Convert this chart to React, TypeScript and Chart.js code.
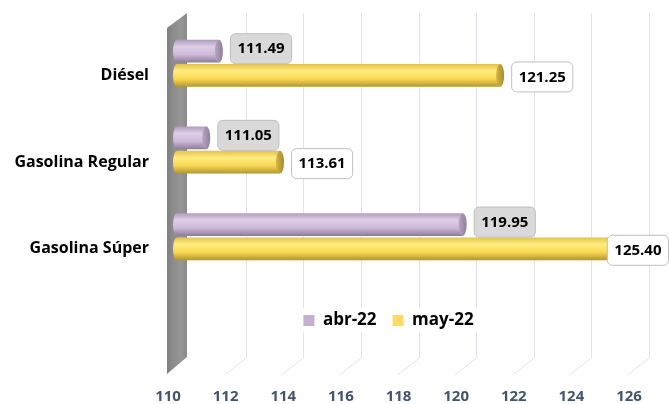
import React, { useEffect, useRef } from 'react';
import { Chart, registerables } from 'chart.js';

Chart.register(...registerables);

const categories = ['Diésel', 'Gasolina Regular', 'Gasolina Súper'];
const seriesNames = ['abr-22', 'may-22'];
const abrValues = [111.49, 111.05, 119.95];
const mayValues = [121.25, 113.61, 125.4];
const xMin = 110;
const xMax = 126;
const xStep = 2;

const FONT = "'Open Sans', 'Noto Sans', sans-serif";

const styles = [
  {
    legend: '#C3AFCF',
    stops: ['#B09CBD', '#DDCDE7', '#CDB9D9', '#8C7B98'],
    face: ['#B7A5C4', '#8E7D9B'],
    labelFill: '#D9D9D9',
    labelDy: -3,
  },
  {
    legend: '#FFD966',
    stops: ['#E2C24A', '#FFEC80', '#F8D852', '#B39430'],
    face: ['#D4B54A', '#A88B2E'],
    labelFill: '#FFFFFF',
    labelDy: 1,
  },
];

const backdropPlugin = {
  id: 'backdrop',
  beforeDraw(chart: any) {
    const { ctx, chartArea } = chart;
    const xs = chart.scales.x;
    const top = chartArea.top - 7;
    const bottom = chartArea.bottom + 78;
    ctx.save();
    ctx.strokeStyle = '#DFE3EA';
    ctx.lineWidth = 1;
    for (let v = xMin + xStep; v <= xMax; v += xStep) {
      const gx = Math.round(xs.getPixelForValue(v) + 8) + 0.5;
      ctx.beginPath();
      ctx.moveTo(gx, top);
      ctx.lineTo(gx, bottom);
      ctx.lineTo(gx - 22, bottom + 17);
      ctx.stroke();
    }
    const p0 = xs.getPixelForValue(xMin);
    const g = ctx.createLinearGradient(p0 - 13, 0, p0 + 7, 0);
    g.addColorStop(0, '#7E7E7E');
    g.addColorStop(0.3, '#8C8C8C');
    g.addColorStop(0.7, '#969696');
    g.addColorStop(1, '#8A8A8A');
    ctx.fillStyle = g;
    ctx.beginPath();
    ctx.moveTo(p0 - 13, top + 15);
    ctx.lineTo(p0 + 7, top);
    ctx.lineTo(p0 + 7, bottom - 1);
    ctx.lineTo(p0 - 13, bottom + 16);
    ctx.closePath();
    ctx.fill();
    const lg = chart.legend;
    if (lg && lg.legendHitBoxes && lg.legendHitBoxes.length) {
      const hb = lg.legendHitBoxes;
      let l = Infinity, r = -Infinity, t = Infinity, b = -Infinity;
      for (const h of hb) {
        l = Math.min(l, h.left);
        r = Math.max(r, h.left + h.width);
        t = Math.min(t, h.top);
        b = Math.max(b, h.top + h.height);
      }
      ctx.fillStyle = '#FFFFFF';
      const cy = (t + b) / 2;
      ctx.fillRect(l - 6, cy - 12, r - l + 12, 24);
    }
    ctx.restore();
  },
  beforeDatasetDraw(chart: any, args: any) {
    const { ctx } = chart;
    const st = styles[args.index];
    const p0 = chart.scales.x.getPixelForValue(xMin);
    ctx.save();
    for (const el of args.meta.data) {
      const h = el.height;
      const y0 = el.y - h / 2;
      const x0 = Math.max(el.base, p0) - 3;
      const x1 = el.x - 4;
      const g = ctx.createLinearGradient(0, y0, 0, y0 + h);
      g.addColorStop(0, st.stops[0]);
      g.addColorStop(0.3, st.stops[1]);
      g.addColorStop(0.65, st.stops[2]);
      g.addColorStop(1, st.stops[3]);
      ctx.fillStyle = g;
      ctx.beginPath();
      ctx.ellipse(x0, el.y, 4, h / 2, 0, Math.PI / 2, Math.PI * 1.5);
      ctx.lineTo(x1, y0);
      ctx.lineTo(x1, y0 + h);
      ctx.closePath();
      ctx.fill();
      const fg = ctx.createLinearGradient(x1 - 4, 0, x1 + 4, 0);
      fg.addColorStop(0, st.face[0]);
      fg.addColorStop(1, st.face[1]);
      ctx.fillStyle = fg;
      ctx.beginPath();
      ctx.ellipse(x1, el.y, 4, h / 2, 0, 0, Math.PI * 2);
      ctx.fill();
    }
    ctx.restore();
    return false;
  },
  afterDatasetsDraw(chart: any) {
    const { ctx, width } = chart;
    ctx.save();
    ctx.font = `bold 15px ${FONT}`;
    ctx.textBaseline = 'middle';
    ctx.textAlign = 'center';
    chart.data.datasets.forEach((ds: any, di: number) => {
      const st = styles[di];
      const meta = chart.getDatasetMeta(di);
      meta.data.forEach((el: any, i: number) => {
        const text = Number(ds.data[i]).toFixed(2);
        const w = ctx.measureText(text).width + 14;
        const h = 30;
        let left = el.x + 7;
        if (left + w > width - 1) left = width - 1 - w;
        const top = el.y + st.labelDy - h / 2;
        ctx.beginPath();
        ctx.roundRect(left + 0.5, top + 0.5, w, h, 5);
        ctx.fillStyle = st.labelFill;
        ctx.fill();
        ctx.strokeStyle = '#BFBFBF';
        ctx.lineWidth = 1;
        ctx.stroke();
        ctx.fillStyle = '#000000';
        ctx.fillText(text, left + w / 2 + 0.5, top + h / 2 + 1);
      });
    });
    ctx.restore();
  },
  afterLayout(chart: any) {
    const lg = chart.legend;
    if (!lg) return;
    lg.left -= 22;
    lg.right -= 22;
    lg.top += 16;
    lg.bottom += 16;
  },
};

export default function App() {
  const ref = useRef<HTMLCanvasElement>(null);
  useEffect(() => {
    document.body.style.margin = '0';
    const chart = new Chart(ref.current as HTMLCanvasElement, {
      type: 'bar',
      data: {
        labels: categories,
        datasets: [
          { label: seriesNames[0], data: abrValues, backgroundColor: styles[0].legend, borderWidth: 0 },
          { label: seriesNames[1], data: mayValues, backgroundColor: styles[1].legend, borderWidth: 0 },
        ],
      },
      plugins: [backdropPlugin],
      options: {
        indexAxis: 'y',
        responsive: true,
        maintainAspectRatio: false,
        animation: false,
        datasets: { bar: { categoryPercentage: 0.56, barPercentage: 0.94 } },
        layout: { padding: { top: 20, right: 28, left: 0, bottom: 0 } },
        scales: {
          x: {
            type: 'linear',
            min: xMin,
            max: xMax,
            weight: 2000,
            grid: { display: false, drawTicks: false },
            border: { display: false },
            afterFit: (s: any) => {
              s.height = 81;
              s.paddingLeft = 0;
              s.paddingRight = 0;
            },
            ticks: {
              stepSize: xStep,
              padding: 65,
              labelOffset: -12,
              color: '#44546A',
              font: { family: FONT, size: 15, weight: 'bold' },
            },
          },
          y: {
            grid: { display: false, drawTicks: false },
            border: { display: false },
            afterFit: (s: any) => {
              s.width = 180;
              s.paddingTop = 0;
              s.paddingBottom = 0;
            },
            ticks: {
              padding: 31,
              labelOffset: 12,
              color: '#000000',
              font: { family: FONT, size: 16, weight: 'bold' },
            },
          },
        },
        plugins: {
          legend: {
            position: 'bottom',
            fullSize: false,
            labels: {
              boxWidth: 11,
              boxHeight: 11,
              padding: 16,
              color: '#000000',
              font: { family: FONT, size: 17, weight: 'bold' },
            },
          },
          tooltip: { enabled: false },
        },
      },
    } as any);
    return () => chart.destroy();
  }, []);
  return (
    <div style={{ position: 'relative', width: 669, height: 404 }}>
      <canvas ref={ref} />
    </div>
  );
}
